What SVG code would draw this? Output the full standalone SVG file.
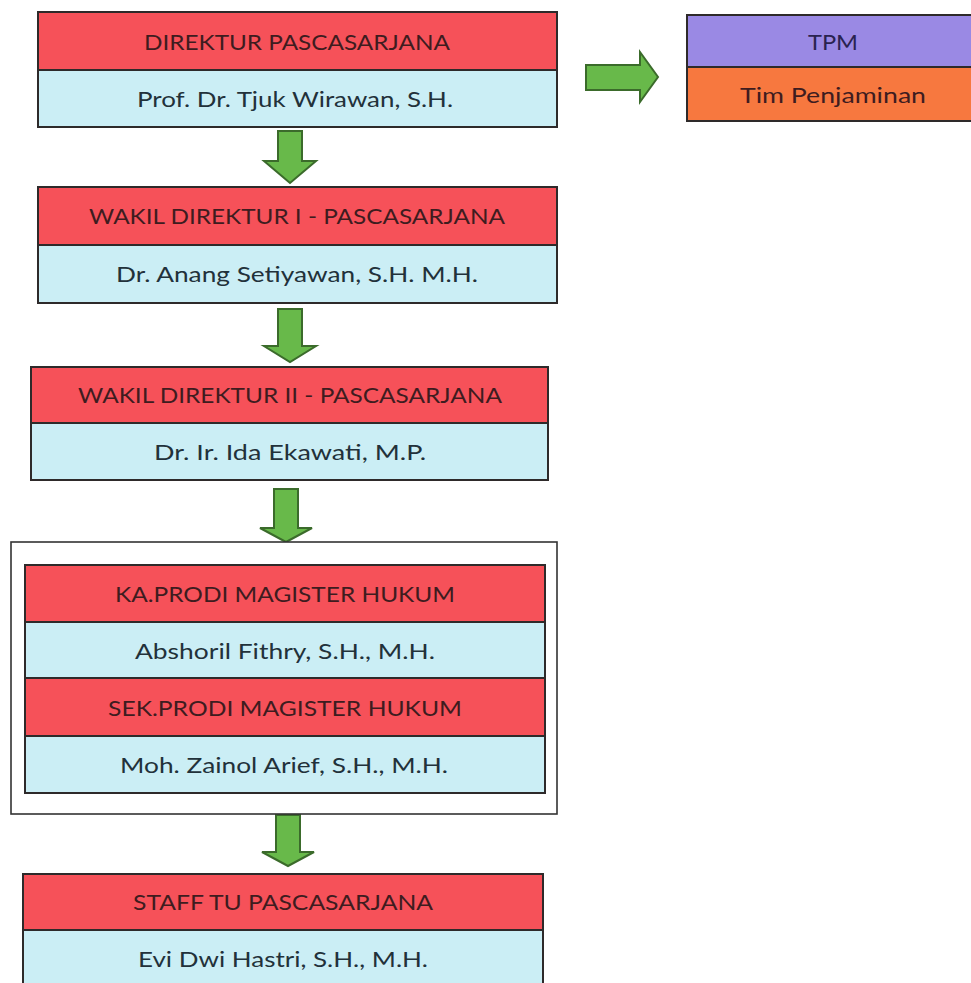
<svg xmlns="http://www.w3.org/2000/svg" width="971" height="983" viewBox="0 0 971 983">
<style>
.red{fill:#f65159;stroke:#2e2a2a;stroke-width:2}
.cyan{fill:#cbeef5;stroke:#2e2a2a;stroke-width:2}
.purple{fill:#9a89e4;stroke:#2e2a2a;stroke-width:2}
.orange{fill:#f7783f;stroke:#2e2a2a;stroke-width:2}
.frame{fill:#ffffff;stroke:#333333;stroke-width:1.6}
.arrow{fill:#68b94a;stroke:#3b6b2b;stroke-width:2;stroke-linejoin:miter}
text{font-family:Lato,"Open Sans","Liberation Sans",sans-serif;font-size:22px;text-anchor:middle}
.tr{fill:#3e1c1f}
.tc{fill:#22313a}
.tp{fill:#2a2350}
</style>
<rect width="971" height="983" fill="#ffffff"/>
<g id="connectors">
<path class="arrow" d="M278,131 H302 V161 H316 L290,183 L264,161 H278 Z"/>
<path class="arrow" d="M278,309 H302 V346 H316 L290,362 L264,346 H278 Z"/>
<path class="arrow" d="M274,489 H298 V528 H312 L286,542 L260,528 H274 Z"/>
<path class="arrow" d="M276,815 H300 V852 H314 L288,866 L262,852 H276 Z"/>
<path class="arrow" d="M586,65 H640 V52 L658,77 L640,102 V90 H586 Z"/>
</g>
<g id="direktur">
<rect class="red" x="38" y="12" width="519" height="58"/>
<rect class="cyan" x="38" y="70" width="519" height="57"/>
<text class="tr" x="297" y="50" textLength="306" lengthAdjust="spacingAndGlyphs">DIREKTUR PASCASARJANA</text>
<text class="tc" x="295" y="107" textLength="316" lengthAdjust="spacingAndGlyphs">Prof. Dr. Tjuk Wirawan, S.H.</text>
</g>
<g id="tpm">
<rect class="purple" x="687" y="15" width="300" height="52"/>
<rect class="orange" x="687" y="67" width="300" height="54"/>
<text class="tp" x="833" y="50" textLength="50" lengthAdjust="spacingAndGlyphs">TPM</text>
<text class="tr" x="833" y="103" textLength="186" lengthAdjust="spacingAndGlyphs">Tim Penjaminan</text>
</g>
<g id="wakil1">
<rect class="red" x="38" y="187" width="519" height="58"/>
<rect class="cyan" x="38" y="245" width="519" height="58"/>
<text class="tr" x="297" y="224" textLength="416" lengthAdjust="spacingAndGlyphs">WAKIL DIREKTUR I - PASCASARJANA</text>
<text class="tc" x="297" y="282" textLength="362" lengthAdjust="spacingAndGlyphs">Dr. Anang Setiyawan, S.H. M.H.</text>
</g>
<g id="wakil2">
<rect class="red" x="31" y="367" width="517" height="56"/>
<rect class="cyan" x="31" y="423" width="517" height="57"/>
<text class="tr" x="290" y="403" textLength="424" lengthAdjust="spacingAndGlyphs">WAKIL DIREKTUR II - PASCASARJANA</text>
<text class="tc" x="290" y="460" textLength="272" lengthAdjust="spacingAndGlyphs">Dr. Ir. Ida Ekawati, M.P.</text>
</g>
<g id="prodi">
<rect class="frame" x="11" y="542" width="546" height="272"/>
<rect class="red" x="25" y="565" width="520" height="57"/>
<rect class="cyan" x="25" y="622" width="520" height="56"/>
<rect class="red" x="25" y="678" width="520" height="58"/>
<rect class="cyan" x="25" y="736" width="520" height="57"/>
<text class="tr" x="285" y="602" textLength="340" lengthAdjust="spacingAndGlyphs">KA.PRODI MAGISTER HUKUM</text>
<text class="tc" x="285" y="659" textLength="300" lengthAdjust="spacingAndGlyphs">Abshoril Fithry, S.H., M.H.</text>
<text class="tr" x="285" y="716" textLength="354" lengthAdjust="spacingAndGlyphs">SEK.PRODI MAGISTER HUKUM</text>
<text class="tc" x="284" y="773" textLength="328" lengthAdjust="spacingAndGlyphs">Moh. Zainol Arief, S.H., M.H.</text>
</g>
<g id="staff">
<rect class="red" x="23" y="874" width="520" height="56"/>
<rect class="cyan" x="23" y="930" width="520" height="60"/>
<text class="tr" x="283" y="910" textLength="300" lengthAdjust="spacingAndGlyphs">STAFF TU PASCASARJANA</text>
<text class="tc" x="283" y="967" textLength="290" lengthAdjust="spacingAndGlyphs">Evi Dwi Hastri, S.H., M.H.</text>
</g>
</svg>
